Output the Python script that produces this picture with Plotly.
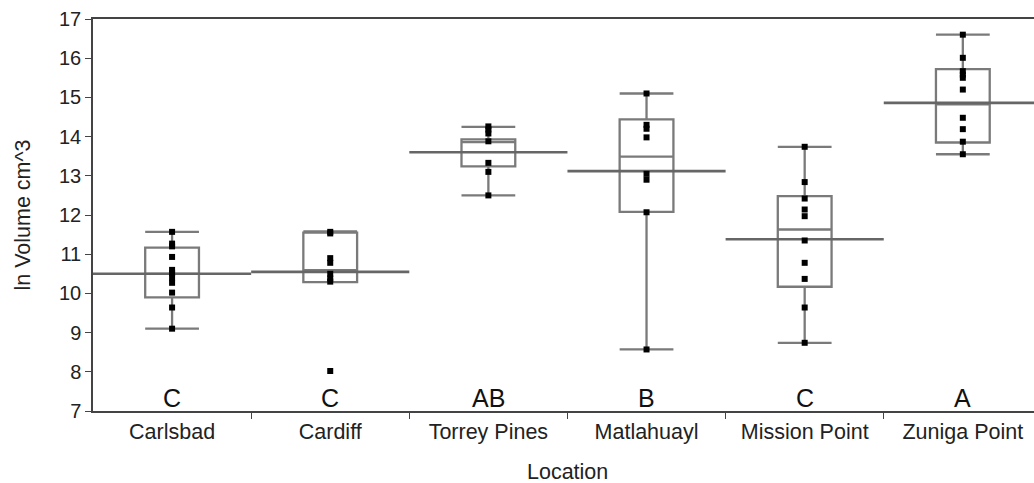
import plotly.graph_objects as go

# Sites along the coast and their connecting-letters grouping
locations = ["Carlsbad", "Cardiff", "Torrey Pines", "Matlahuayl", "Mission Point", "Zuniga Point"]
group_letters = ["C", "C", "AB", "B", "C", "A"]

# Individual observations (ln volume, cm^3) per location
carlsbad = [11.57, 11.27, 11.2, 10.93, 10.6, 10.52, 10.4, 10.27, 10.02, 9.64, 9.1]
cardiff = [11.57, 11.53, 10.9, 10.78, 10.5, 10.38, 10.3, 8.02]
torrey_pines = [14.26, 14.18, 14.08, 13.88, 13.33, 13.1, 12.5]
matlahuayl = [15.1, 14.3, 14.2, 13.98, 13.05, 12.9, 12.07, 8.57]
mission_point = [13.74, 12.84, 12.42, 12.14, 11.97, 11.35, 10.78, 10.37, 9.64, 8.74]
zuniga_point = [16.6, 16.01, 15.67, 15.58, 15.5, 15.2, 14.48, 14.19, 13.87, 13.55]
observations = [carlsbad, cardiff, torrey_pines, matlahuayl, mission_point, zuniga_point]

# Quantile box summaries
q1 = [9.9, 10.29, 13.24, 12.08, 10.17, 13.85]
median = [10.5, 10.59, 13.86, 13.49, 11.63, 14.82]
q3 = [11.17, 11.55, 13.93, 14.44, 12.48, 15.72]
lower_whisker = [9.1, 10.29, 12.5, 8.57, 8.74, 13.55]
upper_whisker = [11.57, 11.58, 14.25, 15.1, 13.74, 16.6]

# Group means
means = [10.5, 10.55, 13.6, 13.12, 11.38, 14.86]

FONT = "Liberation Sans, Arial, sans-serif"
positions = list(range(len(locations)))

fig = go.Figure()

# Quantile boxes with whiskers
fig.add_trace(go.Box(
    x=positions,
    q1=q1, median=median, q3=q3,
    lowerfence=lower_whisker, upperfence=upper_whisker,
    boxpoints=False,
    width=0.34,
    whiskerwidth=1,
    fillcolor="rgba(0,0,0,0)",
    line=dict(color="#7a7a7a", width=2.3),
    hoverinfo="skip",
    showlegend=False,
))

# Mean lines spanning each location's full width
mx, my = [], []
for i, m in enumerate(means):
    mx += [i - 0.5, i + 0.5, None]
    my += [m, m, None]
fig.add_trace(go.Scatter(
    x=mx, y=my, mode="lines",
    line=dict(color="#666666", width=2.6),
    hoverinfo="skip", showlegend=False,
))

# Raw data points
px, py = [], []
for i, vals in enumerate(observations):
    px += [i] * len(vals)
    py += vals
fig.add_trace(go.Scatter(
    x=px, y=py, mode="markers",
    marker=dict(symbol="square", size=6, color="black", line=dict(width=0)),
    hoverinfo="skip", showlegend=False,
))

# Connecting letters above the x axis
for i, letter in enumerate(group_letters):
    fig.add_annotation(
        x=i, y=7.33, xref="x", yref="y",
        text=letter, showarrow=False,
        font=dict(family=FONT, size=25, color="#111111"),
        yanchor="middle", xanchor="center",
    )

# Axis title for the categories
fig.add_annotation(
    x=2.5, y=-0.155, xref="x", yref="paper",
    text="Location", showarrow=False,
    font=dict(family=FONT, size=21.5, color="#222222"),
    yanchor="middle", xanchor="center",
)

fig.update_layout(
    width=1034, height=483,
    margin=dict(l=93, r=0, t=19, b=72),
    paper_bgcolor="white", plot_bgcolor="white",
    font=dict(family=FONT, color="#222222"),
    showlegend=False,
)

fig.update_xaxes(
    range=[-0.5, 5.45],
    tickmode="array", tickvals=positions, ticktext=locations,
    ticks="", showgrid=False, zeroline=False,
    tickfont=dict(family=FONT, size=21.5, color="#222222"),
    showline=True, linecolor="#444444", linewidth=1.5, mirror=True,
    minor=dict(tickmode="array", tickvals=[0.5, 1.5, 2.5, 3.5, 4.5],
               ticks="outside", ticklen=6, tickwidth=1.2, tickcolor="#444444",
               showgrid=False),
)

fig.update_yaxes(
    range=[7, 17], tickmode="array", tickvals=list(range(7, 18)),
    ticks="outside", ticklen=6, tickwidth=1.2, tickcolor="#444444",
    showgrid=False, zeroline=False,
    tickfont=dict(family=FONT, size=20, color="#222222"),
    showline=True, linecolor="#444444", linewidth=1.5,
    title=dict(text="ln Volume cm^3", font=dict(family=FONT, size=21.5, color="#222222"), standoff=22),
)

fig.write_html("out.html")
